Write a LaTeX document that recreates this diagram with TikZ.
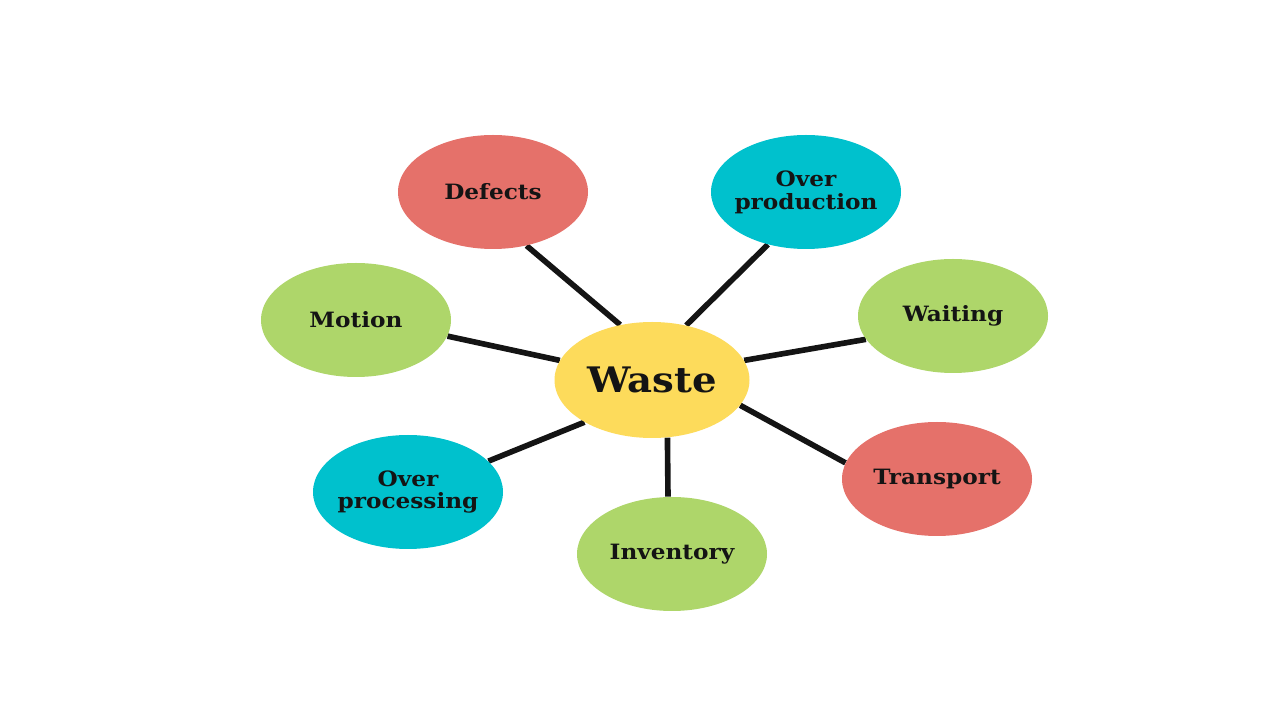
\documentclass[tikz,border=0pt]{standalone}
\usepackage{fontspec}
\setmainfont{DejaVu Serif}[FakeStretch=1.1]
\usetikzlibrary{shapes,backgrounds}
\colorlet{background}{white}
\colorlet{penColor}{black!92}
\definecolor{fillWaste}{HTML}{FDDB5B}
\definecolor{fillRed}{HTML}{E5716A}
\definecolor{fillCyan}{HTML}{00C1CD}
\definecolor{fillGreen}{HTML}{AED66A}
\tikzset{
  hub/.style={ellipse,fill=fillWaste,minimum width=3.9cm,minimum height=2.32cm,inner sep=0pt,
    font=\bfseries\fontsize{20}{23}\selectfont,text=penColor},
  leaf/.style={ellipse,minimum width=3.8cm,minimum height=2.28cm,inner sep=-8pt,align=center,
    font=\bfseries\fontsize{12}{13}\selectfont,text=penColor},
  spoke/.style={penColor,line width=3.2pt}
}

\begin{document}
\begin{tikzpicture}
      \useasboundingbox (0,0) rectangle (25.6,14.4);
      \node [hub] (waste) at (13.04,6.8) {Waste};
      \node [leaf,fill=fillRed] (defects) at (9.86,10.56) {Defects};
      \node [leaf,fill=fillCyan] (overprod) at (16.12,10.56) {Over\\production};
      \node [leaf,fill=fillGreen] (motion) at (7.12,8.0) {Motion};
      \node [leaf,fill=fillGreen] (waiting) at (19.06,8.08) {Waiting};
      \node [leaf,fill=fillCyan] (overproc) at (8.16,4.56) {Over\\processing};
      \node [leaf,fill=fillGreen] (inventory) at (13.44,3.32) {Inventory};
      \node [leaf,fill=fillRed] (transport) at (18.74,4.82) {Transport};
      \begin{scope}[on background layer]
        \fill [background] (0,0) rectangle (25.6,14.4);
        \draw [spoke] (waste.120) -- (defects.302);
        \draw [spoke] (waste.58) -- (overprod.234);
        \draw [spoke] (waste.168) -- (motion.350);
        \draw [spoke] (waste.12) -- (waiting.195);
        \draw [spoke] (waste.212) -- (overproc.21);
        \draw [spoke] (waste.285) -- (inventory.94);
        \draw [spoke] (waste.344) -- (transport.170);
      \end{scope}
    \end{tikzpicture}
\end{document}
